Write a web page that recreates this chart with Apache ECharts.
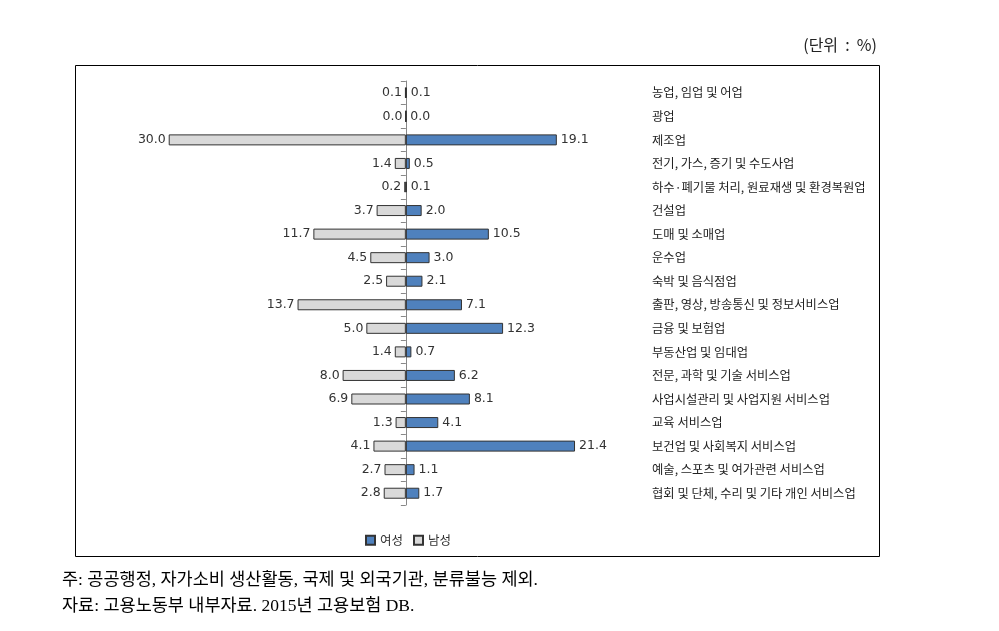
<!DOCTYPE html>
<html>
<head>
<meta charset="utf-8">
<script src="https://cdn.jsdelivr.net/npm/echarts@6/dist/echarts.min.js"></script>
<style>
  html, body { margin: 0; padding: 0; background: #fff; }
  #chart { width: 999px; height: 631px; }
</style>
</head>
<body>
<div id="chart"></div>
<script>
var categories = [
  '농업, 임업 및 어업',
  '광업',
  '제조업',
  '전기, 가스, 증기 및 수도사업',
  '하수·폐기물 처리, 원료재생 및 환경복원업',
  '건설업',
  '도매 및 소매업',
  '운수업',
  '숙박 및 음식점업',
  '출판, 영상, 방송통신 및 정보서비스업',
  '금융 및 보험업',
  '부동산업 및 임대업',
  '전문, 과학 및 기술 서비스업',
  '사업시설관리 및 사업지원 서비스업',
  '교육 서비스업',
  '보건업 및 사회복지 서비스업',
  '예술, 스포츠 및 여가관련 서비스업',
  '협회 및 단체, 수리 및 기타 개인 서비스업'
]
var female = [0.1, 0.0, 19.1, 0.5, 0.1, 2.0, 10.5, 3.0, 2.1, 7.1, 12.3, 0.7, 6.2, 8.1, 4.1, 21.4, 1.1, 1.7]
var male = [0.1, 0.0, 30.0, 1.4, 0.2, 3.7, 11.7, 4.5, 2.5, 13.7, 5.0, 1.4, 8.0, 6.9, 1.3, 4.1, 2.7, 2.8]

var chart = echarts.init(document.getElementById('chart'))
var labelFont = 'DejaVu Sans, Noto Sans CJK KR, sans-serif'
var krFont = 'Noto Sans CJK KR, sans-serif'

var option = {
  animation: false,
  textStyle: { fontFamily: krFont },
  grid: {
    left: 145,
    width: 498,
    top: 81,
    height: 424,
    containLabel: false
  },
  legend: {
    left: 360,
    top: 529,
    itemWidth: 9,
    itemHeight: 9,
    itemGap: 10,
    icon: 'rect',
    textStyle: { fontSize: 12.5, color: '#333', fontFamily: krFont },
    data: ['여성', '남성']
  },
  xAxis: {
    type: 'value',
    min: -33,
    max: 30,
    show: false
  },
  yAxis: [
    {
      type: 'category',
      inverse: true,
      data: categories,
      axisLine: { show: true, onZero: true, lineStyle: { color: '#888', width: 1 } },
      axisTick: { show: true, length: 5, lineStyle: { color: '#888' } },
      axisLabel: { show: false },
      splitLine: { show: false }
    },
    {
      type: 'category',
      inverse: true,
      position: 'right',
      data: categories,
      axisLine: { show: false },
      axisTick: { show: false },
      axisLabel: {
        show: true,
        align: 'left',
        margin: 9,
        fontSize: 12.3,
        color: '#222',
        fontFamily: krFont
      }
    }
  ],
  series: [
    {
      name: '여성',
      type: 'bar',
      stack: 'total',
      barWidth: 11,
      data: female,
      itemStyle: { color: '#4F81BD', borderColor: '#333', borderWidth: 1 },
      label: {
        show: true,
        position: 'right',
        distance: 4,
        fontSize: 12.5,
        color: '#333',
        fontFamily: labelFont,
        formatter: function (p) { return p.value.toFixed(1) }
      }
    },
    {
      name: '남성',
      type: 'bar',
      stack: 'total',
      barWidth: 11,
      data: male.map(function (v) { return -v }),
      itemStyle: { color: '#D9D9D9', borderColor: '#333', borderWidth: 1 },
      label: {
        show: true,
        position: 'left',
        distance: 3,
        fontSize: 12.5,
        color: '#333',
        fontFamily: labelFont,
        formatter: function (p) { return Math.abs(p.value).toFixed(1) }
      }
    }
  ],
  graphic: [
    {
      type: 'rect',
      shape: { x: 75.5, y: 65.5, width: 804, height: 491 },
      style: { fill: null, stroke: '#000', lineWidth: 1 },
      silent: true
    },
    {
      type: 'text',
      right: 122,
      top: 37,
      style: { text: '(단위  :  %)', fill: '#222', font: '16px Noto Sans CJK KR' }
    },
    {
      type: 'text',
      left: 62,
      top: 572,
      style: { text: '주: 공공행정, 자가소비 생산활동, 국제 및 외국기관, 분류불능 제외.', fill: '#000', font: '17.5px Liberation Serif, Noto Sans CJK KR' }
    },
    {
      type: 'text',
      left: 62,
      top: 598,
      style: { text: '자료: 고용노동부 내부자료. 2015년 고용보험 DB.', fill: '#000', font: '17.5px Liberation Serif, Noto Sans CJK KR' }
    }
  ]
}
chart.setOption(option)
</script>
</body>
</html>
